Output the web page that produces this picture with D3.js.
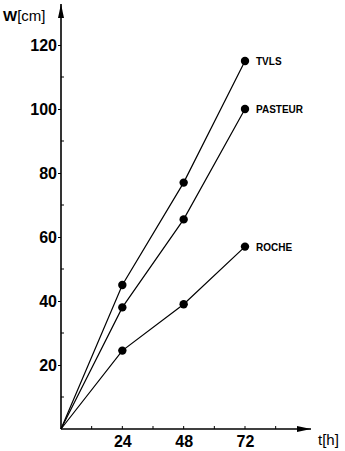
<!DOCTYPE html>
<html>
<head>
<meta charset="utf-8">
<script src="https://cdn.jsdelivr.net/npm/d3@7"></script>
<style>
  body { margin: 0; background: #fff; }
  svg { display: block; font-family: "Liberation Sans", Arial, sans-serif; }
</style>
</head>
<body>
<svg id="chart"></svg>
<script>
var hours = [0, 24, 48, 72];
var tvls = [0, 45, 77, 115];
var pasteur = [0, 38, 65.5, 100];
var roche = [0, 24.5, 39, 57];
var seriesNames = ["TVLS", "PASTEUR", "ROCHE"];
var xTicks = [24, 48, 72];
var xMinorTicks = [12, 36, 60, 84];
var yTicks = [20, 40, 60, 80, 100, 120];
var yMinorTicks = [10, 30, 50, 70, 90, 110];

var width = 345;
var height = 451;

var series = [tvls, pasteur, roche].map(function(vals, i) {
    return {
        name: seriesNames[i],
        points: hours.map(function(h, j) { return { t: h, w: vals[j] }; })
    };
});

var svg = d3.select("#chart")
    .attr("width", width)
    .attr("height", height);

var x = d3.scaleLinear().domain([0, 72]).range([61, 245]);
var y = d3.scaleLinear().domain([0, 120]).range([429, 45]);

// arrow heads for the axes
svg.append("defs").append("marker")
    .attr("id", "arrow")
    .attr("viewBox", "0 0 14 6")
    .attr("refX", 14).attr("refY", 3)
    .attr("markerWidth", 14).attr("markerHeight", 6)
    .attr("markerUnits", "userSpaceOnUse")
    .attr("orient", "auto")
    .append("path")
    .attr("d", "M0,0 L14,3 L0,6 Z")
    .attr("fill", "#000");

svg.append("line")
    .attr("x1", x(0)).attr("y1", y(0))
    .attr("x2", 311).attr("y2", y(0))
    .attr("stroke", "#000").attr("stroke-width", 1.6)
    .attr("marker-end", "url(#arrow)");

svg.append("line")
    .attr("x1", x(0)).attr("y1", y(0))
    .attr("x2", x(0)).attr("y2", 4)
    .attr("stroke", "#000").attr("stroke-width", 1.6)
    .attr("marker-end", "url(#arrow)");

// ticks
var xAxis = d3.axisBottom(x).tickValues(xTicks).tickSize(0).tickPadding(7);
var gx = svg.append("g")
    .attr("transform", "translate(0," + y(0) + ")")
    .call(xAxis);
gx.select(".domain").remove();
gx.selectAll("text")
    .attr("font-size", 16).attr("font-weight", "bold")
    .attr("font-family", "Liberation Sans, Arial, sans-serif")
    .attr("fill", "#000");

svg.selectAll(".xminor")
    .data(xMinorTicks.concat(xTicks))
    .enter().append("line")
    .attr("x1", function(d) { return x(d); })
    .attr("x2", function(d) { return x(d); })
    .attr("y1", y(0))
    .attr("y2", y(0) - 3)
    .attr("stroke", "#000").attr("stroke-width", 1);

var yAxis = d3.axisLeft(y).tickValues(yTicks).tickSize(3).tickPadding(1);
var gy = svg.append("g")
    .attr("transform", "translate(" + x(0) + ",0)")
    .call(yAxis);
gy.select(".domain").remove();
gy.selectAll("text")
    .attr("font-size", 16).attr("font-weight", "bold")
    .attr("font-family", "Liberation Sans, Arial, sans-serif")
    .attr("fill", "#000");

svg.selectAll(".yminor")
    .data(yMinorTicks)
    .enter().append("line")
    .attr("x1", x(0))
    .attr("x2", x(0) + 3)
    .attr("y1", function(d) { return y(d); })
    .attr("y2", function(d) { return y(d); })
    .attr("stroke", "#000").attr("stroke-width", 1);

// axis titles
var wt = svg.append("text")
    .attr("x", 3).attr("y", 21)
    .attr("font-size", 15);
wt.append("tspan").attr("font-weight", "bold").text("W");
wt.append("tspan").text("[cm]");

svg.append("text")
    .attr("x", 318).attr("y", 445)
    .attr("font-size", 15)
    .text("t[h]");

// series
var line = d3.line()
    .x(function(d) { return x(d.t); })
    .y(function(d) { return y(d.w); });

var g = svg.selectAll(".series")
    .data(series)
    .enter().append("g")
    .attr("class", "series");

g.append("path")
    .attr("d", function(d) { return line(d.points); })
    .attr("fill", "none")
    .attr("stroke", "#000")
    .attr("stroke-width", 1.2);

g.selectAll("circle")
    .data(function(d) { return d.points.slice(1); })
    .enter().append("circle")
    .attr("cx", function(d) { return x(d.t); })
    .attr("cy", function(d) { return y(d.w); })
    .attr("r", 4.2)
    .attr("fill", "#000");

g.append("text")
    .attr("x", function(d) { return x(72) + 11; })
    .attr("y", function(d) { return y(d.points[3].w) + 4; })
    .attr("font-size", 10).attr("font-weight", "bold")
    .text(function(d) { return d.name; });
</script>
</body>
</html>
